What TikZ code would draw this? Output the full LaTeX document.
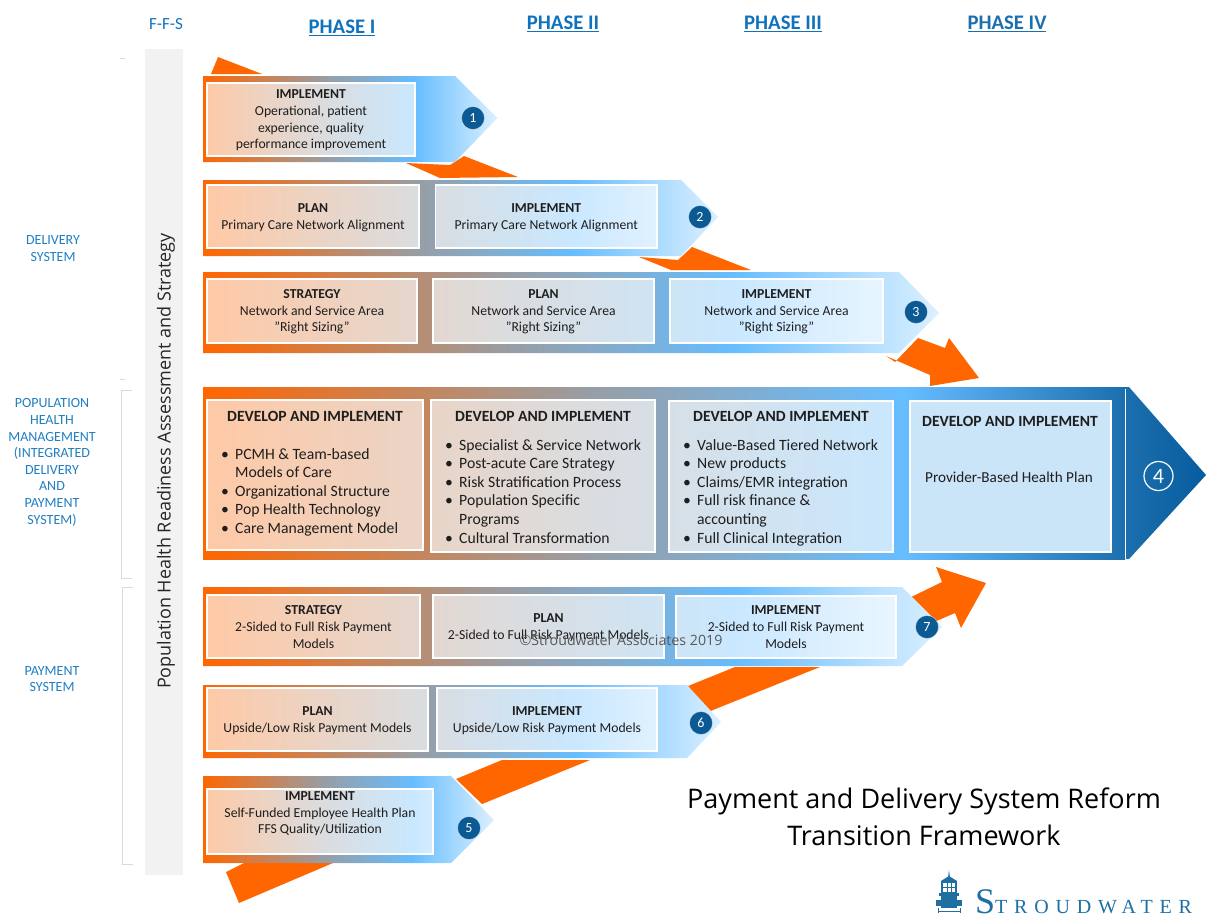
\documentclass[tikz,border=0pt]{standalone}
\usepackage{fontspec}
\setmainfont{Carlito}
\newfontfamily\titlefont{Open Sans}
\newfontfamily\logofont{Liberation Serif}
\usetikzlibrary{calc}
\definecolor{orng}{HTML}{FF6600}
\definecolor{grayy}{HTML}{979EA6}
\definecolor{sky}{HTML}{66BDFF}
\definecolor{pale}{HTML}{DCF0FF}
\definecolor{deep}{HTML}{1C6FAE}
\definecolor{deeper}{HTML}{065C9E}
\definecolor{navy}{HTML}{0B5A94}
\definecolor{lab}{HTML}{1F7EC2}
\definecolor{phase}{HTML}{0F72BE}
\definecolor{ink}{HTML}{1E1E1E}
\definecolor{logoblue}{HTML}{1F6FA3}
\definecolor{boxfour}{HTML}{CAE4F8}
\pgfdeclarehorizontalshading{flow}{100bp}{color(0bp)=(orng); color(25bp)=(orng); color(46bp)=(grayy); color(61bp)=(sky); color(75bp)=(pale); color(100bp)=(pale)}
\pgfdeclarehorizontalshading{bigflow}{100bp}{color(0bp)=(orng); color(25bp)=(orng); color(46bp)=(grayy); color(63bp)=(sky); color(75bp)=(deep); color(100bp)=(deep)}
\pgfdeclarehorizontalshading{headflow}{100bp}{color(0bp)=(deep); color(25bp)=(deep); color(75bp)=(deeper); color(100bp)=(deeper)}
\tikzset{
  boxstyle/.style={draw=white,line width=1.2pt,fill=white,fill opacity=.65,inner sep=0pt,outer sep=0pt},
  txt/.style={align=center,text=ink,inner sep=0pt,yshift=-1pt,font=\fontsize{13.7}{16.6}\selectfont},
  bigtitle/.style={align=center,text=ink,inner sep=0pt,font=\fontsize{15.6}{18}\selectfont\bfseries},
  listtxt/.style={align=left,anchor=north west,text=ink,inner sep=0pt,font=\fontsize{15.7}{18.6}\selectfont},
  side/.style={align=center,text=lab,inner sep=0pt,font=\fontsize{14}{16.6}\selectfont},
  phasehead/.style={text=phase,inner sep=0pt,font=\fontsize{20.7}{22}\selectfont\bfseries},
  badge/.style={circle,fill=navy,draw=white,draw opacity=.5,line width=.6pt,text=white,minimum size=23pt,inner sep=0pt,font=\fontsize{14}{14}\selectfont},
  connector/.style={fill=orng},
  bracket/.style={draw=black!15,line width=1pt},
}
\newcommand{\flowbox}[6]{\node[boxstyle,minimum width={(#4-#2)*1pt},minimum height={(#5-#3)*1pt}] (#1) at ({(#2+#4)/2},{(#3+#5)/2}) {};}
\newcommand{\bl}{\makebox[14pt][l]{\textbullet}}
\newcommand{\ct}{\hspace*{14pt}}
\newcommand{\sq}{\char34\relax}
\begin{document}
\begin{tikzpicture}[x=1pt,y=-1pt]
\useasboundingbox (0,0) rectangle (1206,916);
% sidebar
\fill[black!5] (145,49) rectangle (183,875);
\node[rotate=90,inner sep=0pt,text=black!85!white,font=\titlefont\fontsize{18}{20}\selectfont] (sidebar) at (166,461) {Population Health Readiness Assessment and Strategy};
% brackets
\draw[bracket] (120,58) -- (125,58);
\draw[bracket] (120,379) -- (125,379);
\draw[bracket] (132,390) -- (121,390) -- (121,578) -- (132,578);
\draw[bracket] (133,587) -- (122,587) -- (122,864) -- (133,864);
% side labels
\node[side] (lab1) at (53,248.5) {DELIVERY\\SYSTEM};
\node[side] (lab2) at (52,462.5) {POPULATION\\HEALTH\\MANAGEMENT\\(INTEGRATED\\DELIVERY\\AND\\PAYMENT\\SYSTEM)};
\node[side] (lab3) at (52,679) {PAYMENT\\SYSTEM};
% heads
\node[text=phase,inner sep=0pt,font=\fontsize{17}{18}\selectfont] (ffs) at (166,24) {F-F-S};
\node[phasehead] (ph1) at (342,28) {\underline{PHASE I}};
\node[phasehead] (ph2) at (563,24) {\underline{PHASE II}};
\node[phasehead] (ph3) at (783,24) {\underline{PHASE III}};
\node[phasehead,text=deep] (ph4) at (1007,24) {\underline{PHASE IV}};
% orange connectors
\fill[connector] (211,74) -- (218,57) -- (262,74) -- cycle;
\fill[connector] (406,163) -- (440,178) -- (518,177) -- (464,156) -- (450,165) -- cycle;
\fill[connector] (639,257) -- (671,270) -- (751,270) -- (692,247) -- (678,260) -- cycle;
\fill[connector] (886,356) -- (930,375) -- (930,386) -- (979,378) -- (949,338) -- (945,348) -- (918,338) -- (895,362) -- cycle;
\fill[connector] (905,600) -- (942,582) -- (936,567) -- (986,583) -- (961,628) -- (955,613) -- (925,626) -- cycle;
\fill[connector] (688,686) -- (735,667) -- (820,667) -- (708,712) -- cycle;
\fill[connector] (456,779) -- (502,760) -- (590,760) -- (482,804) -- cycle;
\fill[connector] (226,872) -- (250,860) -- (340,860) -- (239,903) -- cycle;
% arrows
\shade[shading=flow] (203,76) -- (455,76) -- (497.5,118) -- (455,162) -- (203,162) -- cycle;
\shade[shading=flow] (203,180) -- (681,180) -- (718,217) -- (681,256) -- (203,256) -- cycle;
\shade[shading=flow] (203,272) -- (899,272) -- (939,313) -- (899,353) -- (203,353) -- cycle;
\shade[shading=bigflow] (203,387) -- (1125,387) -- (1125,559) -- (203,559) -- cycle;
\shade[shading=headflow] (1125,387) -- (1129,387) -- (1206,475) -- (1129,559) -- (1125,559) -- cycle;
\draw[white,line width=1pt] (1125,389) -- (1125,559);
\shade[shading=flow] (203,587) -- (902,587) -- (942,627) -- (902,666) -- (203,666) -- cycle;
\shade[shading=flow] (203,685) -- (687,685) -- (721,722) -- (687,758) -- (203,758) -- cycle;
\shade[shading=flow] (203,776) -- (451,776) -- (494,820) -- (451,863) -- (203,863) -- cycle;
% boxes
\flowbox{a1}{207}{83}{415}{156}{}
\node[txt] at (a1) {\textbf{IMPLEMENT}\\Operational, patient\\experience, quality\\performance improvement};
\flowbox{b1}{207}{185}{419}{248}{}
\node[txt] at (b1) {\textbf{PLAN}\\Primary Care Network Alignment};
\flowbox{b2}{435.5}{185}{657}{248}{}
\node[txt] at (b2) {\textbf{IMPLEMENT}\\Primary Care Network Alignment};
\flowbox{c1}{207}{279}{417}{343}{}
\node[txt] at (c1) {\textbf{STRATEGY}\\Network and Service Area\\\sq Right Sizing\sq};
\flowbox{c2}{433}{279}{654}{343}{}
\node[txt] at (c2) {\textbf{PLAN}\\Network and Service Area\\\sq Right Sizing\sq};
\flowbox{c3}{670}{279}{883}{343}{}
\node[txt] at (c3) {\textbf{IMPLEMENT}\\Network and Service Area\\\sq Right Sizing\sq};
\flowbox{d1}{207}{400}{423}{550}{}
\node[bigtitle] at (315,416) {DEVELOP AND IMPLEMENT};
\node[listtxt] at (221,448) {\bl PCMH \& Team-based\\\ct Models of Care\\\bl Organizational Structure\\\bl Pop Health Technology\\\bl Care Management Model};
\flowbox{d2}{431}{400}{655}{552}{}
\node[bigtitle] at (543,416) {DEVELOP AND IMPLEMENT};
\node[listtxt] at (445,439) {\bl Specialist \& Service Network\\\bl Post-acute Care Strategy\\\bl Risk Stratification Process\\\bl Population Specific\\\ct Programs\\\bl Cultural Transformation};
\flowbox{d3}{669}{401}{893}{552}{}
\node[bigtitle] at (781,416) {DEVELOP AND IMPLEMENT};
\node[listtxt] at (683,439) {\bl Value-Based Tiered Network\\\bl New products\\\bl Claims/EMR integration\\\bl Full risk finance \&\\\ct accounting\\\bl Full Clinical Integration};
\node[boxstyle,fill=boxfour,fill opacity=1,minimum width=201pt,minimum height=151pt] (d4) at (1010.5,476.5) {};
\node[bigtitle] at (1010,421) {DEVELOP AND IMPLEMENT};
\node[txt,font=\fontsize{15.2}{18}\selectfont] at (1009,476) {Provider-Based Health Plan};
\flowbox{e1}{207}{595}{420}{658}{}
\node[txt] at ($(e1.center)+(0,-.5)$) {\textbf{STRATEGY}\\2-Sided to Full Risk Payment\\Models};
\flowbox{e2}{433}{595}{664}{658}{}
\node[txt] at (e2) {\textbf{PLAN}\\2-Sided to Full Risk Payment Models};
\flowbox{e3}{676}{596}{896}{658}{}
\node[txt] at ($(e3.center)+(0,-1)$) {\textbf{IMPLEMENT}\\2-Sided to Full Risk Payment\\Models};
\flowbox{f1}{207}{688}{428}{751}{}
\node[txt] at (f1) {\textbf{PLAN}\\Upside/Low Risk Payment Models};
\flowbox{f2}{437}{688}{657}{751}{}
\node[txt] at (f2) {\textbf{IMPLEMENT}\\Upside/Low Risk Payment Models};
\flowbox{g1}{207}{789}{433}{854}{}
\node[txt] at ($(g1.center)+(0,-8.5)$) {\textbf{IMPLEMENT}\\Self-Funded Employee Health Plan\\FFS Quality/Utilization};
% badges
\node[badge] (n1) at (473,118) {1};
\node[badge] (n2) at (700,217) {2};
\node[badge] (n3) at (916,312) {3};
\node[circle,draw=white,line width=1.2pt,text=white,minimum size=29pt,inner sep=0pt,font=\fontsize{22}{22}\selectfont] (n4) at (1158.5,476) {4};
\node[badge] (n7) at (927,627) {7};
\node[badge] (n6) at (701,723) {6};
\node[badge] (n5) at (469,828) {5};
% watermark
\node[inner sep=0pt,text=black!65,font=\titlefont\fontsize{14.2}{16}\selectfont] (wm) at (621,640) {©Stroudwater Associates 2019};
% title
\node[inner sep=0pt,align=center,text=black,font=\titlefont\fontsize{27}{37.5}\selectfont] (ttl) at (924,817) {Payment and Delivery System Reform\\Transition Framework};
% logo
\fill[logoblue] (949,870) -- (950,878) -- (948,878) -- cycle;
\fill[logoblue] (941,881) -- (949,876) -- (957,881) -- cycle;
\draw[logoblue,line width=1.2pt] (942,882) rectangle (956,893);
\draw[logoblue,line width=.7pt] (947,882) -- (947,893) (951,882) -- (951,893) (942,887) -- (956,887);
\fill[logoblue] (939,893) rectangle (959,896);
\fill[logoblue] (941,896) rectangle (957,908);
\fill[logoblue] (936,900) rectangle (962,906);
\draw[logoblue,line width=.5pt] (938,908) -- (938,913) (960,908) -- (960,913) (938,911) -- (960,911);
\node[anchor=base west,inner sep=0pt,text=logoblue,font=\logofont] (logo) at (975,913) {\fontsize{36}{36}\selectfont S\fontsize{20}{20}\selectfont\addfontfeature{LetterSpace=34}TROUDWATER};
\end{tikzpicture}
\end{document}
